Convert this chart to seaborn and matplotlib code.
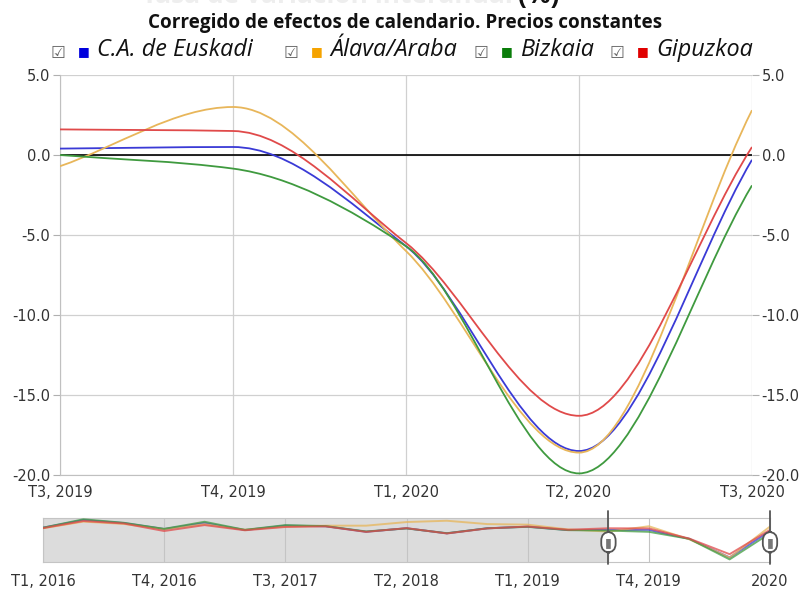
import numpy as np
import pandas as pd
import seaborn as sns
import matplotlib.pyplot as plt
from matplotlib.path import Path
from matplotlib.patches import PathPatch
import matplotlib.transforms as mtransforms

# Main chart data (interannual rate, %)
quarters = ["T3, 2019", "T4, 2019", "T1, 2020", "T2, 2020", "T3, 2020"]
euskadi = [0.4, 0.5, -5.7, -18.5, -0.3]
alava = [-0.7, 3.0, -6.0, -18.6, 2.8]
bizkaia = [0.0, -0.85, -5.7, -19.9, -1.9]
gipuzkoa = [1.6, 1.5, -5.5, -16.3, 0.5]

# Navigator history, T1 2016 .. T2 2019
hist_euskadi = [2.0, 7.3, 5.2, 1.1, 5.2, 0.4, 3.4, 3.0, -0.8, 1.6, -1.9, 1.6, 2.7, 0.4]
hist_alava = [1.6, 6.2, 4.6, 1.0, 4.4, 0.6, 2.8, 3.4, 3.4, 5.9, 6.8, 4.5, 4.1, 0.8]
hist_bizkaia = [2.0, 7.8, 5.4, 1.2, 6.1, 0.5, 3.8, 3.1, -0.6, 1.5, -1.8, 1.6, 2.6, 0.3]
hist_gipuzkoa = [1.7, 6.6, 4.9, -0.3, 3.8, 0.2, 2.5, 2.9, -0.9, 1.7, -2.0, 1.5, 2.8, 0.6]
nav_labels = ["T1, 2016", "T4, 2016", "T3, 2017", "T2, 2018", "T1, 2019", "T4, 2019", "2020"]

names = ["C.A. de Euskadi", "Álava/Araba", "Bizkaia", "Gipuzkoa"]
legend_colors = ["#0000dd", "#f5a300", "#0a7d0a", "#e00000"]
line_colors = ["#3a3ad6", "#e8b65a", "#3f9a3f", "#e04a4a"]

sns.set_style("white")
plt.rcParams["font.family"] = ["DejaVu Sans"]


def monotone_path(xs, ys):
    # monotone cubic (Fritsch-Butland) drawn as bezier segments
    xs = np.asarray(xs, float)
    ys = np.asarray(ys, float)
    h = np.diff(xs)
    d = np.diff(ys) / h
    n = len(xs)
    m = np.zeros(n)
    m[0], m[-1] = d[0], d[-1]
    for i in range(1, n - 1):
        if d[i - 1] * d[i] > 0:
            m[i] = 3 * (h[i - 1] + h[i]) / ((2 * h[i] + h[i - 1]) / d[i - 1] + (h[i] + 2 * h[i - 1]) / d[i])
    verts = [(xs[0], ys[0])]
    codes = [Path.MOVETO]
    for i in range(n - 1):
        verts += [(xs[i] + h[i] / 3, ys[i] + m[i] * h[i] / 3),
                  (xs[i + 1] - h[i] / 3, ys[i + 1] - m[i + 1] * h[i] / 3),
                  (xs[i + 1], ys[i + 1])]
        codes += [Path.CURVE4] * 3
    return Path(verts, codes)


W, H = 805, 592
fig = plt.figure(figsize=(W / 100, H / 100), dpi=100)
ofont = ["Open Sans", "DejaVu Sans"]

# titles (the top one is cut by the image edge, as in the original)
fig.text(513 / W, 1 - 3 / H, "Tasa de variación interanual", ha="right", va="baseline",
         fontsize=19, fontweight="bold", color="#eeeeee", family=ofont)
fig.text(518 / W, 1 - 3 / H, "(%)", ha="left", va="baseline",
         fontsize=19, fontweight="bold", color="#111111", family=ofont)
fig.text(405 / W, 1 - 23 / H, "Corregido de efectos de calendario. Precios constantes",
         ha="center", va="center", fontsize=13.6, fontweight="bold", color="#111111", family=ofont)

# legend row
legend_x = [58, 291, 481, 617]
for x0, name, col in zip(legend_x, names, legend_colors):
    fig.text(x0 / W, 1 - 53 / H, "☑", ha="center", va="center", fontsize=12, color="#666666")
    fig.text((x0 + 26) / W, 1 - 52 / H, "■", ha="center", va="center", fontsize=9, color=col)
    fig.text((x0 + 39) / W, 1 - 50 / H, name, ha="left", va="center", fontsize=16.8,
             style="italic", color="#111111", family=ofont)

# main chart
ax = fig.add_axes([60 / W, 1 - 475 / H, 692 / W, 400 / H])
xpos = np.arange(len(quarters))
for series, col in zip([euskadi, alava, bizkaia, gipuzkoa], line_colors):
    ax.add_patch(PathPatch(monotone_path(xpos, series), fill=False, edgecolor=col, lw=1.3, zorder=3))
ax.axhline(0, color="black", lw=1.2, zorder=2)
ax.set_xlim(0, len(quarters) - 1)
ax.set_ylim(-20, 5)
ax.set_xticks(xpos)
ax.set_xticklabels(quarters)
ax.set_yticks([5, 0, -5, -10, -15, -20])
ax.set_yticklabels(["%.1f" % v for v in [5, 0, -5, -10, -15, -20]])
ax.grid(True, color="#d0d0d0", lw=0.9)
ax.set_axisbelow(True)
for s in ["top", "right"]:
    ax.spines[s].set_visible(False)
for s in ["left", "bottom"]:
    ax.spines[s].set_color("#c0c0c0")
ax.tick_params(axis="y", left=True, right=True, labelleft=True, labelright=True,
               length=5, width=0.8, color="#b0b0b0", pad=2, labelsize=10.5, labelcolor="#333333")
ax.tick_params(axis="x", length=0, pad=7, labelsize=10.5, labelcolor="#333333")

# navigator
nav = fig.add_axes([43 / W, 1 - 562 / H, 727 / W, 44 / H])
rows = []
for name, hist, main in zip(names, [hist_euskadi, hist_alava, hist_bizkaia, hist_gipuzkoa],
                            [euskadi, alava, bizkaia, gipuzkoa]):
    for i, v in enumerate(hist + main):
        rows.append({"t": i, "value": v, "region": name})
df = pd.DataFrame(rows)
sns.lineplot(data=df, x="t", y="value", hue="region", palette=line_colors, legend=False,
             lw=1.4, alpha=0.75, ax=nav, zorder=3)
sel_start = len(hist_euskadi)
sel_end = len(hist_euskadi) + len(quarters) - 1
nav.axvspan(0, sel_start, color="#dcdcdc", zorder=0)
nav.set_xlim(0, sel_end)
nav.set_ylim(-21.7, 8.7)
nav.set_xticks(np.arange(0, sel_end + 1, 3))
nav.set_xticklabels(nav_labels)
nav.set_yticks([])
nav.set_xlabel("")
nav.set_ylabel("")
nav.grid(axis="x", color="#c4c4c4", lw=0.8, zorder=1)
nav.set_axisbelow(False)
for s in nav.spines.values():
    s.set_color("#c4c4c4")
nav.tick_params(axis="x", length=5, color="#c4c4c4", pad=4, labelsize=10.5, labelcolor="#333333")

trans = mtransforms.blended_transform_factory(nav.transData, nav.transAxes)
for xh in [sel_start, sel_end]:
    nav.plot([xh, xh], [-0.05, 1.15], transform=trans, color="#555555", lw=1.3, clip_on=False, zorder=5)
    nav.text(xh, 0.45, "▮", transform=trans, ha="center", va="center", fontsize=9, color="#777777",
             zorder=6, clip_on=False,
             bbox=dict(boxstyle="round,pad=0.3,rounding_size=0.7", fc="white", ec="#555555", lw=1.3))

fig.savefig("out.png", dpi=100)
